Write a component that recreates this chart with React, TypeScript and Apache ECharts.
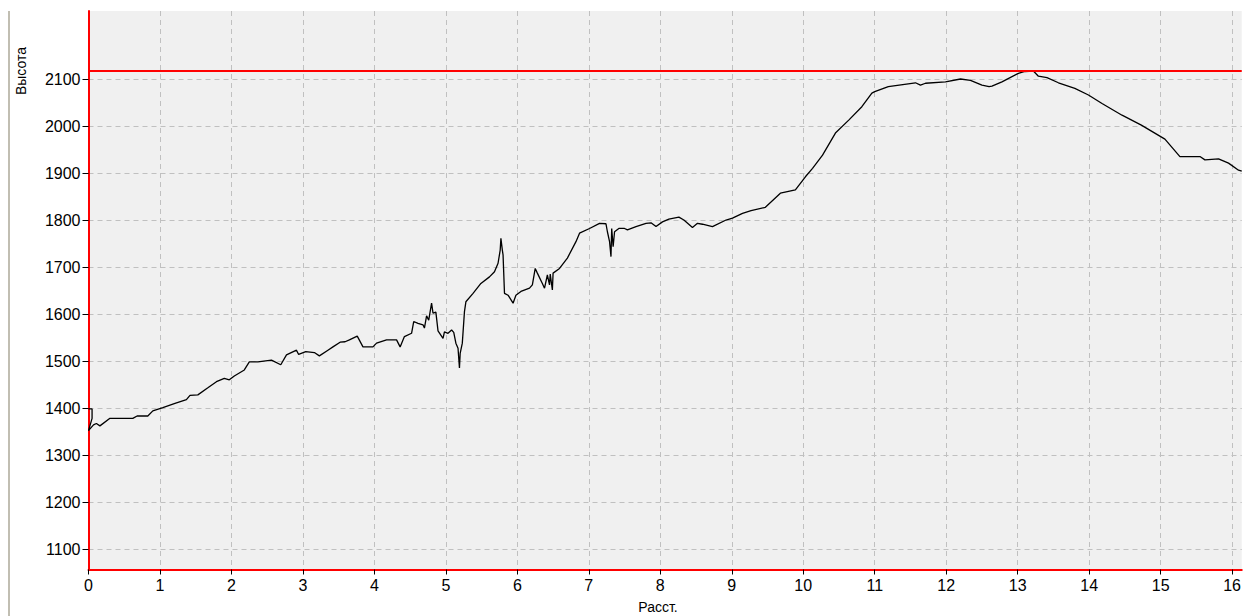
import React, { useEffect, useRef } from "react";
import * as echarts from "echarts";

// Distance along the route (km)
const distanceKm = [
  0, 0.05, 0.05, 0, 0.07, 0.11, 0.16, 0.3, 0.62, 0.68, 0.83, 0.9, 1.04, 1.21, 1.37, 1.42, 1.53,
  1.67, 1.79, 1.9, 1.97, 2.04, 2.18, 2.25, 2.37, 2.56, 2.69, 2.77, 2.91, 2.94, 3.04, 3.16, 3.23,
  3.35, 3.42, 3.52, 3.59, 3.65, 3.76, 3.84, 3.98, 4.03, 4.17, 4.31, 4.36, 4.42, 4.52, 4.55, 4.61,
  4.68, 4.7, 4.73, 4.76, 4.8, 4.82, 4.86, 4.89, 4.96, 4.98, 5.03, 5.08, 5.11, 5.14, 5.17, 5.19,
  5.2, 5.23, 5.26, 5.28, 5.38, 5.49, 5.61, 5.68, 5.73, 5.76, 5.77, 5.79, 5.8, 5.82, 5.87, 5.94,
  5.98, 6.05, 6.17, 6.21, 6.25, 6.28, 6.35, 6.38, 6.42, 6.45, 6.46, 6.49, 6.5, 6.59, 6.7, 6.82,
  6.87, 7.01, 7.15, 7.24, 7.26, 7.29, 7.31, 7.32, 7.34, 7.36, 7.42, 7.5, 7.54, 7.66, 7.8, 7.87,
  7.94, 8.03, 8.12, 8.26, 8.33, 8.45, 8.52, 8.59, 8.73, 8.92, 9.01, 9.15, 9.27, 9.47, 9.68, 9.89,
  10.03, 10.13, 10.27, 10.45, 10.64, 10.82, 10.96, 11.0, 11.19, 11.57, 11.64, 11.71, 11.99, 12.2,
  12.34, 12.5, 12.6, 12.64, 12.78, 13.01, 13.1, 13.22, 13.29, 13.41, 13.57, 13.8, 13.99, 14.18,
  14.46, 14.73, 15.06, 15.27, 15.55, 15.62, 15.81, 15.95, 16.09, 16.135,
];

// Altitude (m)
const altitudeM = [
  1398, 1398, 1378, 1352, 1364, 1367, 1362, 1378, 1378, 1383, 1383, 1394, 1401, 1410, 1418, 1427, 1428,
  1443, 1456, 1463, 1460, 1468, 1481, 1498, 1498, 1502, 1492, 1513, 1523, 1514, 1520, 1518, 1511,
  1523, 1530, 1540, 1541, 1545, 1553, 1530, 1530, 1538, 1545, 1545, 1530, 1552, 1559, 1584, 1580,
  1577, 1570, 1596, 1587, 1623, 1602, 1604, 1564, 1548, 1562, 1559, 1566, 1561, 1538, 1527, 1485,
  1516, 1538, 1605, 1626, 1644, 1665, 1679, 1690, 1708, 1736, 1761, 1736, 1726, 1644, 1640, 1623,
  1640, 1648, 1655, 1662, 1697, 1687, 1665, 1655, 1683, 1662, 1685, 1651, 1687, 1697, 1719, 1754,
  1772, 1782, 1793, 1792, 1775, 1754, 1722, 1782, 1743, 1775, 1782, 1782, 1779, 1786, 1793, 1794,
  1786, 1796, 1802, 1806, 1800, 1784, 1793, 1791, 1786, 1800, 1804, 1814, 1820, 1827, 1857, 1864,
  1892, 1910, 1938, 1985, 2013, 2041, 2070, 2073, 2084, 2092, 2087, 2091, 2094, 2100,
  2097, 2087, 2084, 2085, 2094, 2112, 2116, 2117, 2106, 2103, 2092, 2080, 2066, 2048,
  2023, 2002, 1972, 1935, 1935, 1928, 1930, 1921, 1906, 1904,
];

const xTickValues = [0, 1, 2, 3, 4, 5, 6, 7, 8, 9, 10, 11, 12, 13, 14, 15, 16];
const yTickValues = [1100, 1200, 1300, 1400, 1500, 1600, 1700, 1800, 1900, 2000, 2100];

const xTitle = "Расст.";
const yTitle = "Высота";

const FONT = "Liberation Sans, Arial, sans-serif";

export default function App() {
  const ref = useRef<HTMLDivElement>(null);

  useEffect(() => {
    if (!ref.current) return;
    const chart = echarts.init(ref.current, undefined, { renderer: "svg" });
    const data = distanceKm.map((d, i) => [d, altitudeM[i]]);
    const maxAlt = Math.max(...altitudeM);
    const plain = (v: number) => String(v);

    const option: any = {
      animation: false,
      backgroundColor: "#ffffff",
      grid: {
        left: 88.5,
        right: 0,
        top: 11,
        bottom: 46.5,
        show: true,
        backgroundColor: "#f0f0f0",
        borderWidth: 0,
      },
      xAxis: {
        type: "value",
        min: 0,
        max: 16.135,
        axisLine: { show: true, onZero: false, lineStyle: { color: "#ff0000", width: 2 } },
        axisTick: {
          show: true,
          length: 5,
          customValues: xTickValues,
          lineStyle: { color: "#000000", width: 1 },
        },
        axisLabel: {
          customValues: xTickValues,
          formatter: plain,
          color: "#000000",
          fontSize: 16,
          fontFamily: FONT,
          margin: 8,
        },
        splitLine: {
          show: true,
          lineStyle: { color: "#c0c0c0", width: 1, type: [5, 4] },
        },
      },
      yAxis: {
        type: "value",
        min: 1056.4,
        max: 2244.7,
        axisLine: { show: true, onZero: false, lineStyle: { color: "#ff0000", width: 2 } },
        axisTick: {
          show: true,
          length: 6,
          customValues: yTickValues,
          lineStyle: { color: "#000000", width: 1 },
        },
        axisLabel: {
          customValues: yTickValues,
          formatter: plain,
          color: "#000000",
          fontSize: 16,
          fontFamily: FONT,
          margin: 8,
        },
        splitLine: {
          show: true,
          lineStyle: { color: "#c0c0c0", width: 1, type: [5, 4] },
        },
      },
      series: [
        {
          type: "line",
          data,
          showSymbol: false,
          symbol: "none",
          lineStyle: { color: "#000000", width: 1.3 },
          z: 3,
          markLine: {
            silent: true,
            symbol: ["none", "none"],
            label: { show: false },
            lineStyle: { color: "#ff0000", width: 2, type: "solid" },
            data: [{ yAxis: maxAlt }],
          },
        },
      ],
      graphic: [
        {
          type: "line",
          shape: { x1: 9, y1: 11, x2: 9, y2: 616 },
          style: { stroke: "#aca899", lineWidth: 1.5 },
        },
        {
          type: "text",
          x: 21,
          y: 71,
          rotation: Math.PI / 2,
          style: {
            text: yTitle,
            fill: "#000000",
            font: `14px ${FONT}`,
            align: "center",
            verticalAlign: "middle",
          },
        },
        {
          type: "text",
          x: 658,
          y: 607,
          style: {
            text: xTitle,
            fill: "#000000",
            font: `14px ${FONT}`,
            align: "center",
            verticalAlign: "middle",
          },
        },
      ],
    };

    chart.setOption(option);
    return () => chart.dispose();
  }, []);

  return (
    <div
      ref={ref}
      style={{ position: "absolute", left: 0, top: 0, width: 1244, height: 616 }}
    />
  );
}
